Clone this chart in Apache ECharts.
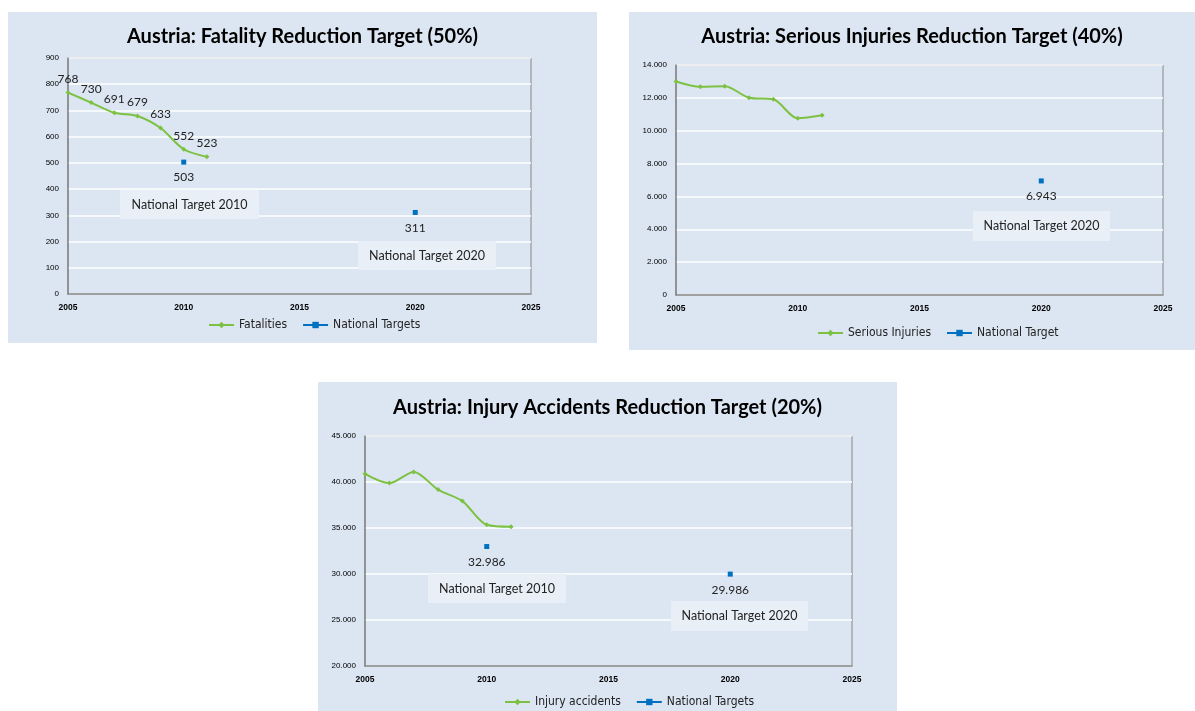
<!DOCTYPE html>
<html>
<head>
<meta charset="utf-8">
<script src="https://cdn.jsdelivr.net/npm/echarts@6/dist/echarts.min.js"></script>
<style>
  body { margin: 0; background: #ffffff; width: 1195px; height: 711px; position: relative; overflow: hidden; }
  .panel { position: absolute; background: #dce6f2; }
</style>
</head>
<body>
<div id="c1" class="panel" style="left:8px;top:12px;width:589px;height:331px"></div>
<div id="c2" class="panel" style="left:629px;top:12px;width:566px;height:338px"></div>
<div id="c3" class="panel" style="left:318px;top:382px;width:579px;height:329px"></div>
<script>
// years of observed data
const years = [2005, 2006, 2007, 2008, 2009, 2010, 2011];

// fatalities
const fatalities = [768, 730, 691, 679, 633, 552, 523];
const fatalityTargetYears = [2010, 2020];
const fatalityTargets = [503, 311];

// serious injuries
const seriousInjuries = [13000, 12680, 12700, 12010, 11910, 10755, 10940];
const seriousTargetYears = [2020];
const seriousTargets = [6943];

// injury accidents
const injuryAccidents = [40896, 39884, 41096, 39173, 37925, 35348, 35129];
const accidentTargetYears = [2010, 2020];
const accidentTargets = [32986, 29986];

const GREEN = '#7cc142';
const BLUE = '#0070c0';
const AXIS = '#868686';
const LABEL_FONT = 'Lato, "Noto Sans", sans-serif';
const NARROW_FONT = '"Liberation Sans Narrow", "DejaVu Sans Condensed", "Liberation Sans", sans-serif';

function fmt(v) {
  return String(v).replace(/\B(?=(\d{3})+(?!\d))/g, '.');
}
function pairs(xs, ys) {
  return xs.map((x, i) => [x, ys[i]]);
}

// text box drawn on top of the plot
function noteBox(left, top, w, h, text) {
  return {
    type: 'group', left: left, top: top, z: 50,
    children: [
      { type: 'rect', z: 50, shape: { x: 0, y: 0, width: w, height: h }, style: { fill: '#e9eff7' } },
      { type: 'text', z: 51, x: w / 2, y: h / 2, style: { text: text, fill: '#222', font: '12.5px ' + LABEL_FONT, align: 'center', verticalAlign: 'middle' } }
    ]
  };
}

function getOption(cfg) {
  return {
    animation: false,
    backgroundColor: '#dce6f2',
    title: {
      text: cfg.title,
      left: 'center',
      top: cfg.titleTop,
      textStyle: { fontFamily: LABEL_FONT, fontWeight: 'bold', fontSize: 20, color: '#000' }
    },
    grid: {
      left: cfg.grid[0], top: cfg.grid[1], width: cfg.grid[2], height: cfg.grid[3],
      show: true, backgroundColor: '#dce6f2', borderColor: AXIS, borderWidth: 1
    },
    legend: {
      left: cfg.legendLeft, top: cfg.legendTop, padding: 0,
      itemWidth: 25, itemHeight: 8, itemGap: 15,
      lineStyle: { opacity: 1, width: 2 },
      textStyle: { fontFamily: NARROW_FONT, fontSize: 12, color: '#222' },
      data: [cfg.lineName, cfg.targetName]
    },
    xAxis: {
      type: 'value', min: 2005, max: 2025, interval: 5,
      axisLine: { show: true, onZero: false, lineStyle: { color: AXIS, width: 1.5 } },
      axisTick: { show: false },
      splitLine: { show: false },
      axisLabel: {
        margin: 9, fontFamily: '"Liberation Sans", Arial, sans-serif', fontWeight: 'bold', fontSize: 8.5, color: '#000',
        formatter: v => String(v)
      }
    },
    yAxis: {
      type: 'value', min: cfg.yMin, max: cfg.yMax, interval: cfg.yStep,
      axisLine: { show: true, lineStyle: { color: AXIS, width: 1.5 } },
      axisTick: { show: false },
      splitLine: { lineStyle: { color: '#ffffff', width: 1.5 } },
      axisLabel: { margin: 9, fontFamily: '"Liberation Sans", Arial, sans-serif', fontSize: 8, color: '#000', formatter: fmt }
    },
    graphic: cfg.notes,
    series: [{
      name: cfg.lineName,
      type: 'line',
      smooth: 0.3,
      symbol: 'diamond',
      symbolSize: 5,
      color: GREEN,
      lineStyle: { width: 2, color: GREEN },
      label: {
        show: cfg.lineLabels, position: 'top', distance: 5,
        fontFamily: LABEL_FONT, fontSize: 12, color: '#222'
      },
      data: pairs(years, cfg.lineData)
    }, {
      name: cfg.targetName,
      type: 'line',
      symbol: 'rect',
      symbolSize: 5,
      color: BLUE,
      lineStyle: { width: 2, color: BLUE, opacity: 0 },
      label: {
        show: true, position: 'bottom', distance: 7, formatter: p => fmt(p.value[1]),
        fontFamily: LABEL_FONT, fontSize: 12, color: '#222'
      },
      data: pairs(cfg.targetYears, cfg.targetData)
    }]
  };
}

const chart1 = echarts.init(document.getElementById('c1'));
chart1.setOption(getOption({
  title: 'Austria: Fatality Reduction Target (50%)', titleTop: 10,
  grid: [60, 46, 463, 236],
  legendLeft: 200, legendTop: 307,
  lineName: 'Fatalities', targetName: 'National Targets',
  yMin: 0, yMax: 900, yStep: 100,
  lineData: fatalities, lineLabels: true,
  targetYears: fatalityTargetYears, targetData: fatalityTargets,
  notes: [noteBox(112, 178, 139, 29, 'National Target 2010'), noteBox(350, 229, 138, 29, 'National Target 2020')]
}));

const chart2 = echarts.init(document.getElementById('c2'));
chart2.setOption(getOption({
  title: 'Austria: Serious Injuries Reduction Target (40%)', titleTop: 10,
  grid: [47, 53, 487, 230],
  legendLeft: 188, legendTop: 315,
  lineName: 'Serious Injuries', targetName: 'National Target',
  yMin: 0, yMax: 14000, yStep: 2000,
  lineData: seriousInjuries, lineLabels: false,
  targetYears: seriousTargetYears, targetData: seriousTargets,
  notes: [noteBox(344, 199, 137, 30, 'National Target 2020')]
}));

const chart3 = echarts.init(document.getElementById('c3'));
chart3.setOption(getOption({
  title: 'Austria: Injury Accidents Reduction Target (20%)', titleTop: 11,
  grid: [47, 54, 487, 230],
  legendLeft: 186, legendTop: 314,
  lineName: 'Injury accidents', targetName: 'National Targets',
  yMin: 20000, yMax: 45000, yStep: 5000,
  lineData: injuryAccidents, lineLabels: false,
  targetYears: accidentTargetYears, targetData: accidentTargets,
  notes: [noteBox(110, 192, 138, 29, 'National Target 2010'), noteBox(353, 219, 137, 30, 'National Target 2020')]
}));
</script>
</body>
</html>
